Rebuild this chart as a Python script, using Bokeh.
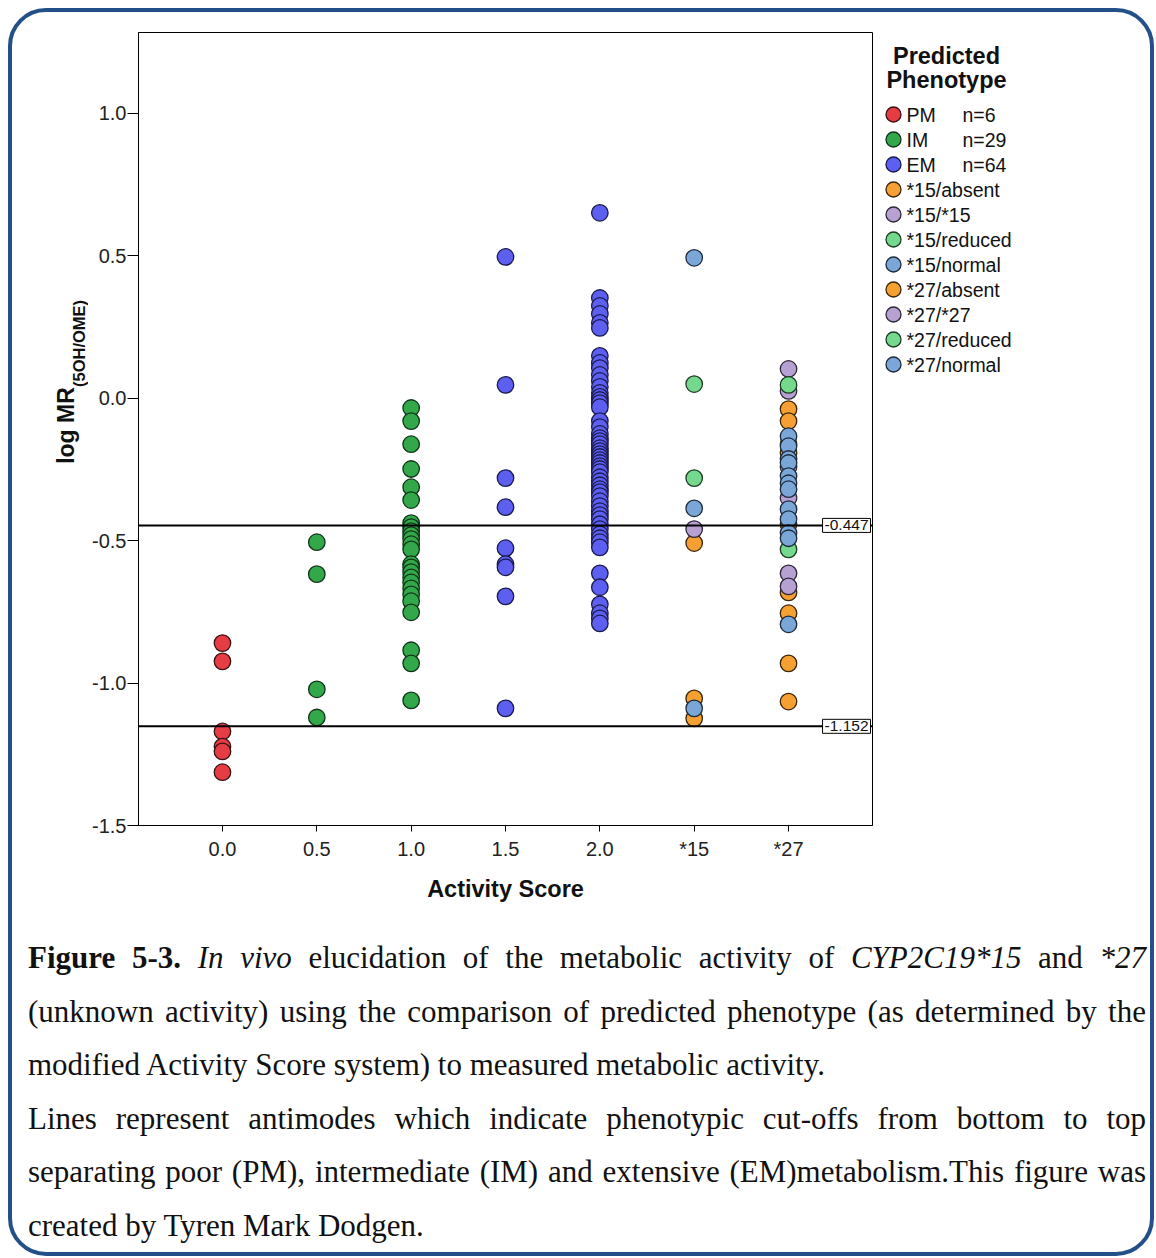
import math
from bokeh.plotting import figure
from bokeh.models import (Range1d, FixedTicker, Span, Label, Div, NumeralTickFormatter)
from bokeh.layouts import column, row
from bokeh.core.properties import value
from bokeh.embed import file_html
from bokeh.resources import INLINE

# ---------------- data ----------------
categories = ["0.0", "0.5", "1.0", "1.5", "2.0", "*15", "*27"]
y_ticks = [-1.5, -1.0, -0.5, 0.0, 0.5, 1.0]
antimodes = [-1.152, -0.447]
antimode_labels = ["-1.152", "-0.447"]

pm_as00 = [-0.860, -0.924, -1.170, -1.223, -1.240, -1.313]
im_as05 = [-0.506, -0.618, -1.022, -1.121]
im_as10 = [-0.035, -0.081, -0.162, -0.249, -0.313, -0.358, -0.439, -0.453, -0.467,
           -0.481, -0.495, -0.513, -0.531, -0.583, -0.594, -0.611, -0.629, -0.647,
           -0.668, -0.689, -0.713, -0.752, -0.885, -0.931, -1.061]
em_as15 = [0.495, 0.046, -0.281, -0.383, -0.527, -0.583, -0.594, -0.696, -1.089]
em_as20 = [0.650, 0.351, 0.323, 0.295, 0.264, 0.246, 0.148, 0.123, 0.105, 0.081,
           0.060, 0.039, 0.018, 0.004, -0.007, -0.018, -0.032, -0.081, -0.102, -0.126,
           -0.141, -0.151, -0.162, -0.176, -0.186, -0.197, -0.207, -0.218, -0.228,
           -0.239, -0.249, -0.260, -0.278, -0.292, -0.306, -0.320, -0.330, -0.344,
           -0.362, -0.379, -0.397, -0.411, -0.425, -0.443, -0.460, -0.478, -0.492,
           -0.506, -0.524, -0.615, -0.664, -0.724, -0.755, -0.773, -0.791]
s15_absent = [-0.509, -1.054, -1.124]
s15_s15 = [-0.460]
s15_reduced = [0.049, -0.281]
s15_normal = [0.492, -0.387, -1.089]
s27_absent = [-0.039, -0.081, -0.162, -0.193, -0.443, -0.682, -0.755, -0.931, -1.065]
s27_s27 = [0.102, 0.025, -0.242, -0.351, -0.615, -0.661]
s27_reduced = [0.046, -0.531]
s27_normal = [-0.134, -0.169, -0.214, -0.228, -0.274, -0.299, -0.320, -0.390,
              -0.425, -0.474, -0.492, -0.794]

legend_title = ["Predicted", "Phenotype"]
# (legend label, count text, parts, fill colour, outline colour)
groups = [
    ("PM", "n=6", [("0.0", pm_as00)], "#e63c44", "#3a1214"),
    ("IM", "n=29", [("0.5", im_as05), ("1.0", im_as10)], "#33a84a", "#0f3318"),
    ("EM", "n=64", [("1.5", em_as15), ("2.0", em_as20)], "#5d5ff0", "#1a1a4e"),
    ("*15/absent", "", [("*15", s15_absent)], "#f6a034", "#3a2508"),
    ("*15/*15", "", [("*15", s15_s15)], "#b7a0d2", "#2e2838"),
    ("*15/reduced", "", [("*15", s15_reduced)], "#74d98c", "#1b3a22"),
    ("*15/normal", "", [("*15", s15_normal)], "#7ba7d8", "#1c2a3a"),
    ("*27/absent", "", [("*27", s27_absent)], "#f6a034", "#3a2508"),
    ("*27/*27", "", [("*27", s27_s27)], "#b7a0d2", "#2e2838"),
    ("*27/reduced", "", [("*27", s27_reduced)], "#74d98c", "#1b3a22"),
    ("*27/normal", "", [("*27", s27_normal)], "#7ba7d8", "#1c2a3a"),
]

FONT = "Liberation Sans"
TXT = "#111111"
FW, FH = 734, 793
BT, BB = 20, 95              # borders above / below the frames (shared by all three figures)


def side_figure(w):
    f = figure(frame_width=w, frame_height=FH, x_range=Range1d(0, w), y_range=Range1d(0, FH),
               min_border_left=0, min_border_right=0, min_border_top=BT, min_border_bottom=BB,
               x_axis_type=None, y_axis_type=None,
               output_backend="svg", toolbar_location=None,
               background_fill_color=None, border_fill_color=None, outline_line_color=None)
    f.grid.visible = False
    return f


# ---------------- main plot ----------------
p = figure(frame_width=FW, frame_height=FH,
           x_range=Range1d(-0.89, 6.89), y_range=Range1d(-1.5, 1.2826),
           min_border_left=50, min_border_right=2, min_border_top=BT, min_border_bottom=BB,
           output_backend="svg", toolbar_location=None,
           background_fill_color=None, border_fill_color=None)
p.grid.visible = False
p.outline_line_color = "black"
p.outline_line_width = 1

p.xaxis.ticker = FixedTicker(ticks=list(range(len(categories))))
p.xaxis.major_label_overrides = {i: c for i, c in enumerate(categories)}
p.yaxis.ticker = FixedTicker(ticks=y_ticks)
p.yaxis.formatter = NumeralTickFormatter(format="0.0")
for ax in (p.xaxis[0], p.yaxis[0]):
    ax.axis_line_color = "black"
    ax.major_tick_line_color = "black"
    ax.minor_tick_line_color = None
    ax.major_tick_in = 0
    ax.major_label_text_font = FONT
    ax.major_label_text_font_size = "20px"
    ax.major_label_text_color = "#222222"
p.yaxis.major_tick_out = 11
p.yaxis.major_label_standoff = 1
p.xaxis.major_tick_out = 6
p.xaxis.major_label_standoff = 6
p.xaxis.axis_label = "Activity Score"
p.xaxis.axis_label_text_font = FONT
p.xaxis.axis_label_text_font_style = "bold"
p.xaxis.axis_label_text_font_size = "23.5px"
p.xaxis.axis_label_text_color = TXT
p.xaxis.axis_label_standoff = 13

for val in antimodes:
    p.add_layout(Span(location=val, dimension="width", line_color="black", line_width=2))

for name, count, parts, fill, line in groups:
    xs, ys = [], []
    for cat, vals in parts:
        xs += [categories.index(cat)] * len(vals)
        ys += list(vals)
    p.scatter(xs, ys, marker="circle", size=16.5, fill_color=fill,
              line_color=line, line_width=1.3)

for val, lab in zip(antimodes, antimode_labels):
    p.add_layout(Label(x=FW - 2, y=val, x_units="screen", y_units="data", text=lab,
                       text_align="right", text_baseline="middle",
                       text_font=FONT, text_font_size="15.5px", text_color=TXT,
                       background_fill_color="white", border_line_color="black",
                       border_line_width=1, padding=2))

# ---------------- y-axis title panel ----------------
YW = 76
ylab = side_figure(YW)
ylab.text(x=[53], y=[400], text=["log MR"], angle=math.pi / 2,
          text_align="center", text_baseline="middle", text_font=value(FONT),
          text_font_style="bold", text_font_size="23px", text_color=TXT)
ylab.text(x=[66], y=[482], text=["(5OH/OME)"], angle=math.pi / 2,
          text_align="center", text_baseline="middle", text_font=value(FONT),
          text_font_style="bold", text_font_size="16.5px", text_color=TXT)

# ---------------- legend panel ----------------
LW = 276
leg = side_figure(LW)
ROW0, STEP = 711, 25
leg.text(x=[72, 72], y=[770, 746], text=legend_title, text_align="center",
         text_baseline="middle", text_font=value(FONT), text_font_style="bold",
         text_font_size="23.5px", text_color=TXT)
rows_y = [ROW0 - STEP * k for k in range(len(groups))]
leg.scatter(x=[19] * len(groups), y=rows_y, marker="circle", size=15,
            fill_color=[g[3] for g in groups], line_color=[g[4] for g in groups],
            line_width=1.3)
leg.text(x=[32] * len(groups), y=rows_y, text=[g[0] for g in groups],
         text_align="left", text_baseline="middle", text_font=value(FONT),
         text_font_size="19.5px", text_color=TXT)
leg.text(x=[88] * len(groups), y=rows_y, text=[g[1] for g in groups],
         text_align="left", text_baseline="middle", text_font=value(FONT),
         text_font_size="19.5px", text_color=TXT)

# ---------------- caption ----------------
J = "text-align:justify;text-align-last:justify;white-space:nowrap;"
L = "text-align:left;white-space:nowrap;"
caption_lines = [
    (J, "<b>Figure 5-3.</b> <i>In vivo</i> elucidation of the metabolic activity of "
        "<i>CYP2C19*15</i> and <i>*27</i>"),
    (J, "(unknown activity) using the comparison of predicted phenotype (as determined by the"),
    (L, "modified Activity Score system) to measured metabolic activity."),
    (J, "Lines represent antimodes which indicate phenotypic cut-offs from bottom to top"),
    (J, "separating poor (PM), intermediate (IM) and extensive (EM)metabolism.This figure was"),
    (L, "created by Tyren Mark Dodgen."),
]
TOTAL_W = YW + (50 + FW + 2) + LW
PAD_L, PAD_R = 16, 4
html = (f"<div style=\"box-sizing:content-box;width:{TOTAL_W - PAD_L - PAD_R}px;"
        f"padding:11px {PAD_R}px 0 {PAD_L}px;"
        "font-family:'Liberation Serif','Times New Roman',serif;"
        "font-size:31px;line-height:53.5px;color:#111;\">"
        + "".join(f"<div style=\"width:100%;{s}\">{t}</div>" for s, t in caption_lines)
        + "</div>")
div = Div(text=html, width=TOTAL_W, height=332, margin=0)

layout = column(row(ylab, p, leg), div,
                styles={"border": "4px solid #24508a", "border-radius": "38px",
                        "margin": "8px 0 0 8px"})

open("out.html", "w").write(file_html(layout, INLINE))
